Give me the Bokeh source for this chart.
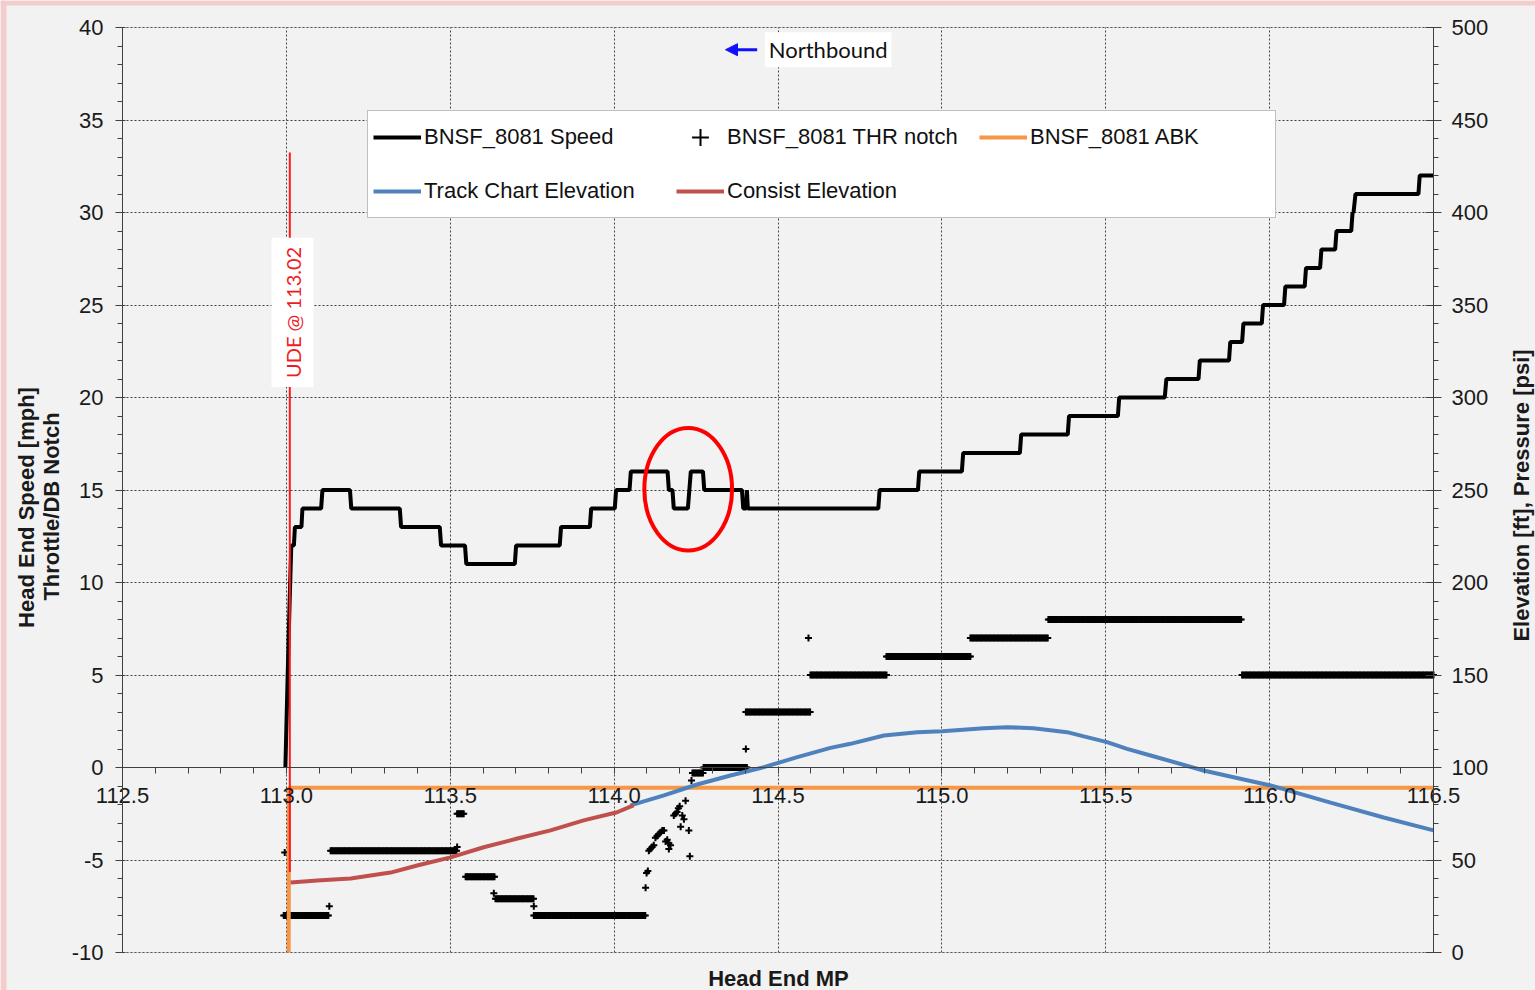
import numpy as np
from bokeh.plotting import figure
from bokeh.models import (Range1d, LinearAxis, SingleIntervalTicker, PrintfTickFormatter, Grid,
                          Legend, LegendItem, Label, Arrow, NormalHead, BoxAnnotation)
from bokeh.embed import file_html
from bokeh.resources import INLINE

# ---------------- data ----------------
speed_mp = [112.997, 113.004, 113.010, 113.015, 113.023, 113.026, 113.046, 113.049, 113.106, 113.110,
            113.194, 113.198, 113.346, 113.350, 113.468, 113.472, 113.545, 113.549, 113.697, 113.701,
            113.834, 113.838, 113.926, 113.930, 114.002, 114.006, 114.047, 114.051, 114.163, 114.167,
            114.178, 114.182, 114.225, 114.234, 114.271, 114.275, 114.390, 114.394, 114.403, 114.405,
            114.408, 114.806, 114.810, 114.927, 114.931, 115.061, 115.065, 115.238, 115.242, 115.384,
            115.388, 115.537, 115.541, 115.680, 115.685, 115.783, 115.787, 115.876, 115.880, 115.916,
            115.920, 115.976, 115.980, 116.044, 116.048, 116.107, 116.111, 116.154, 116.158, 116.200,
            116.204, 116.249, 116.253, 116.256, 116.262, 116.454, 116.458, 116.500]
speed_mph = [0, 5, 9, 12, 12, 13, 13, 14, 14, 15,
             15, 14, 14, 13, 13, 12, 12, 11, 11, 12,
             12, 13, 13, 14, 14, 15, 15, 16, 16, 15,
             15, 14, 14, 16, 16, 15, 15, 14, 14, 15,
             14, 14, 15, 15, 16, 16, 17, 17, 18, 18,
             19, 19, 20, 20, 21, 21, 22, 22, 23, 23,
             24, 24, 25, 25, 26, 26, 27, 27, 28, 28,
             29, 29, 30, 30, 31, 31, 32, 32]

# throttle / dynamic-brake notch: runs of constant notch (start MP, end MP, notch)
notch_run_start = [112.992, 113.135, 113.521, 113.547, 113.638, 113.755, 114.239, 114.273,
                   114.402, 114.599, 114.831, 115.087, 115.325, 115.916]
notch_run_end = [113.131, 113.521, 113.541, 113.638, 113.754, 114.096, 114.273, 114.407,
                 114.599, 114.831, 115.087, 115.325, 115.916, 116.500]
notch_run_value = [-8, -4.5, -2.5, -5.9, -7.1, -8, -0.3, 0,
                   3, 5, 6, 7, 8, 5]
# isolated notch samples
notch_pt_mp = [112.995, 113.131, 113.521, 113.633, 113.755, 114.096, 114.099, 114.103, 114.106,
               114.110, 114.116, 114.121, 114.126, 114.131, 114.136, 114.142, 114.147, 114.152,
               114.157, 114.162, 114.167, 114.167, 114.172, 114.182, 114.187, 114.192, 114.196,
               114.200, 114.203, 114.208, 114.213, 114.218, 114.228, 114.231, 114.236, 114.402,
               114.593]
notch_pt_value = [-4.6, -7.5, -4.3, -6.8, -7.5, -6.5, -5.7, -5.6, -4.5,
                  -4.4, -4.3, -4.2, -3.8, -3.7, -3.6, -3.5, -3.4, -3.4,
                  -4.0, -3.9, -4.1, -4.4, -4.2, -2.6, -2.5, -2.4, -2.2,
                  -2.1, -3.2, -2.6, -2.8, -1.8, -3.4, -4.8, -0.7, 1.0,
                  7.0]
notch_sample_step = 0.004

abk_mp = [113.007, 113.008, 116.5]
abk_psi = [0, 89, 89]

track_mp = [114.050, 114.152, 114.253, 114.355, 114.457, 114.559, 114.660, 114.721, 114.823,
            114.925, 115.001, 115.128, 115.199, 115.280, 115.382, 115.433, 115.504, 115.565,
            115.637, 115.798, 116.003, 116.186, 116.348, 116.500]
track_ft = [79.5, 84.9, 90.8, 95.7, 100.2, 105.6, 110.6, 112.8, 117.3,
            119.1, 119.6, 121.2, 121.8, 121.2, 119.1, 116.8, 113.7, 110.1,
            106.5, 98.4, 90.3, 81.0, 73.0, 66.0]

consist_mp = [113.013, 113.094, 113.196, 113.318, 113.399, 113.501, 113.602, 113.705, 113.806,
              113.907, 114.009, 114.059]
consist_ft = [37.8, 38.9, 40.0, 43.2, 47.0, 51.4, 56.9, 61.6, 66.0,
              71.4, 75.8, 79.5]

# axis extents of the chart area
x_lo, x_hi = 112.5, 116.5
y_lo, y_hi = -10.0, 40.0
elev_lo, elev_hi = 0.0, 500.0

ude_mp = 113.0105
ude_span = [-5.65, 33.24]

# ---------------- figure ----------------
# The Bokeh frame covers the whole canvas; the chart area (112.5..116.5 x -10..40)
# sits inside it so that axes, tick labels and titles are never clipped.
W, H = 1535, 990
FL, FR, FT, FB = 122, 1433, 27, 952          # pixel edges of the chart area
xs_per_px = (x_hi - x_lo) / (FR - FL)
ys_per_px = (y_hi - y_lo) / (FB - FT)
xr = Range1d(x_lo - FL * xs_per_px, x_hi + (W - FR) * xs_per_px)
yr = Range1d(y_lo - (H - FB) * ys_per_px, y_hi + FT * ys_per_px)
k = (elev_hi - elev_lo) / (y_hi - y_lo)
er = Range1d(elev_lo + (yr.start - y_lo) * k, elev_lo + (yr.end - y_lo) * k)

FONT = "Liberation Sans"
TICK_COLOR = "#1a1a1a"
AX_COLOR = "#404040"
p = figure(width=W, height=H, x_range=xr, y_range=yr,
           output_backend="svg", toolbar_location=None,
           min_border_left=0, min_border_right=0, min_border_top=0, min_border_bottom=0,
           background_fill_color="#f2f2f2", border_fill_color="#f2f2f2",
           outline_line_color=None)
p.extra_y_ranges = {"elev": er}

# pinkish page edge of the reference screenshot
p.add_layout(BoxAnnotation(left=xr.start, right=xr.end, bottom=yr.end - 5 * ys_per_px, top=yr.end,
                           fill_color="#f4cccc", fill_alpha=1, line_color=None, level="underlay"))
p.add_layout(BoxAnnotation(left=xr.start, right=xr.start + 6 * xs_per_px, bottom=yr.start, top=yr.end,
                           fill_color="#f4cccc", fill_alpha=1, line_color=None, level="underlay"))
# chart-area border
p.add_layout(BoxAnnotation(left=x_lo, right=x_hi, bottom=y_lo, top=y_hi, fill_color=None,
                           line_color="#8c8c8c", line_width=1, level="underlay"))

# x axis drawn at y = 0
xa = p.xaxis[0]
xa.ticker = SingleIntervalTicker(interval=0.5, num_minor_ticks=5)
xa.formatter = PrintfTickFormatter(format="%.1f")
xa.fixed_location = 0
xa.bounds = (x_lo, x_hi)
xa.axis_line_color = AX_COLOR
xa.major_tick_line_color = AX_COLOR
xa.minor_tick_line_color = AX_COLOR
xa.major_tick_in = 0
xa.major_tick_out = 6
xa.minor_tick_in = 0
xa.minor_tick_out = 6
xa.major_label_standoff = 14
xa.major_label_text_font = FONT
xa.major_label_text_font_size = "22px"
xa.major_label_text_color = TICK_COLOR

ya = p.yaxis[0]
ya.ticker = SingleIntervalTicker(interval=5, num_minor_ticks=5)
ya.formatter = PrintfTickFormatter(format="%d")
ya.fixed_location = x_lo
ya.bounds = (y_lo, y_hi)
ya.major_label_text_font = FONT
ya.major_label_text_font_size = "22px"
ya.major_label_text_color = TICK_COLOR
ya.major_label_standoff = 12
ya.axis_line_color = AX_COLOR
ya.major_tick_line_color = AX_COLOR
ya.minor_tick_line_color = AX_COLOR
ya.major_tick_in = 3
ya.major_tick_out = 7
ya.minor_tick_in = 0
ya.minor_tick_out = 5

ra = LinearAxis(y_range_name="elev", ticker=SingleIntervalTicker(interval=50, num_minor_ticks=5),
                formatter=PrintfTickFormatter(format="%d"), fixed_location=x_hi,
                bounds=(elev_lo, elev_hi))
ra.major_label_text_font = FONT
ra.major_label_text_font_size = "22px"
ra.major_label_text_color = TICK_COLOR
ra.major_label_standoff = 10
ra.axis_line_color = AX_COLOR
ra.major_tick_line_color = AX_COLOR
ra.minor_tick_line_color = AX_COLOR
ra.major_tick_in = 8
ra.major_tick_out = 8
ra.minor_tick_in = 0
ra.minor_tick_out = 5
p.add_layout(ra, "right")

# grid lines, limited to the chart area
p.xgrid.ticker = xa.ticker
p.ygrid.ticker = ya.ticker
for g in (p.xgrid, p.ygrid):
    g.grid_line_color = AX_COLOR
    g.grid_line_dash = "2 2"
    g.grid_line_width = 1
p.xgrid.bounds = (x_lo, x_hi)
p.ygrid.bounds = (y_lo, y_hi)
if "cross_bounds" in Grid.properties():
    p.xgrid.cross_bounds = (y_lo, y_hi)
    p.ygrid.cross_bounds = (x_lo, x_hi)
else:
    p.xgrid.visible = False
    p.ygrid.visible = False
    gx = np.arange(x_lo, x_hi + 1e-9, 0.5)
    gy = np.arange(y_lo, y_hi + 1e-9, 5)
    p.segment(x0=gx, y0=[y_lo] * len(gx), x1=gx, y1=[y_hi] * len(gx),
              line_color=AX_COLOR, line_dash="2 2", line_width=1, level="underlay")
    p.segment(x0=[x_lo] * len(gy), y0=gy, x1=[x_hi] * len(gy), y1=gy,
              line_color=AX_COLOR, line_dash="2 2", line_width=1, level="underlay")

# axis titles
def px_x(px):
    return x_lo + (px - FL) * xs_per_px

def px_y(py):
    return y_hi - (py - FT) * ys_per_px

TITLE_KW = dict(text_font=FONT, text_font_style="bold", text_font_size="22px", text_color="#1a1a1a",
                text_align="center", text_baseline="middle")
p.add_layout(Label(x=px_x(26), y=px_y(507), text="Head End Speed [mph]", angle=90, angle_units="deg", **TITLE_KW))
p.add_layout(Label(x=px_x(51), y=px_y(506), text="Throttle/DB Notch", angle=90, angle_units="deg", **TITLE_KW))
p.add_layout(Label(x=px_x(1521), y=px_y(495), text="Elevation [ft], Pressure [psi]", angle=90, angle_units="deg", **TITLE_KW))
p.add_layout(Label(x=px_x(778), y=px_y(978), text="Head End MP", **TITLE_KW))

# ---------------- series ----------------
nx, ny = [], []
for s, e, v in zip(notch_run_start, notch_run_end, notch_run_value):
    xs = np.arange(s, e + 1e-9, notch_sample_step)
    nx.extend(xs.tolist())
    ny.extend([v] * len(xs))
nx.extend(notch_pt_mp)
ny.extend(notch_pt_value)

r_notch = p.scatter(nx, ny, marker="cross", size=7, line_color="black", line_width=2)
r_abk = p.line(abk_mp, abk_psi, y_range_name="elev", line_color="#f79646", line_width=4)
r_track = p.line(track_mp, track_ft, y_range_name="elev", line_color="#4f81bd", line_width=4)
r_consist = p.line(consist_mp, consist_ft, y_range_name="elev", line_color="#c0504d", line_width=4)
r_speed = p.line(speed_mp, speed_mph, line_color="black", line_width=4)

# UDE marker line and label
p.segment(x0=[ude_mp], y0=[ude_span[0]], x1=[ude_mp], y1=[ude_span[1]], line_color="#ff1a1a", line_width=2)
p.add_layout(Label(x=113.0187, y=24.6, text="UDE @ 113.02", angle=90, angle_units="deg",
                   text_align="center", text_baseline="middle", text_color="#ee1c25",
                   text_font="Lato", text_font_size="20px",
                   background_fill_color="white", background_fill_alpha=1, padding=9))

# highlight ellipse
p.ellipse(x=[114.226], y=[15.04], width=0.2676, height=6.63, fill_color=None,
          line_color="#ff0000", line_width=4)

# Northbound annotation
p.add_layout(Arrow(end=NormalHead(size=12, fill_color="#1010ff", line_color="#1010ff"),
                   x_start=114.4365, y_start=38.8, x_end=114.3398, y_end=38.8,
                   line_color="#1010ff", line_width=3))
p.add_layout(Label(x=114.4597, y=38.8, text="Northbound", text_align="left", text_baseline="middle",
                   text_font="Lato", text_font_size="22px", text_color="#111111",
                   background_fill_color="white", background_fill_alpha=1, padding=4))

legend = Legend(items=[
    LegendItem(label="BNSF_8081 Speed", renderers=[r_speed]),
    LegendItem(label="BNSF_8081 THR notch", renderers=[r_notch]),
    LegendItem(label="BNSF_8081 ABK", renderers=[r_abk]),
    LegendItem(label="Track Chart Elevation", renderers=[r_track]),
    LegendItem(label="Consist Elevation", renderers=[r_consist]),
], location=(367, H - 218), orientation="horizontal", ncols=3,
    glyph_width=48, glyph_height=42, label_width=240, spacing=12, padding=5, label_standoff=3,
    label_text_font=FONT, label_text_font_size="22px", label_text_color="#111111",
    border_line_color="#808080", border_line_width=1,
    background_fill_color="white", background_fill_alpha=1, margin=0)
p.add_layout(legend)

open("out.html", "w").write(file_html(p, INLINE))
